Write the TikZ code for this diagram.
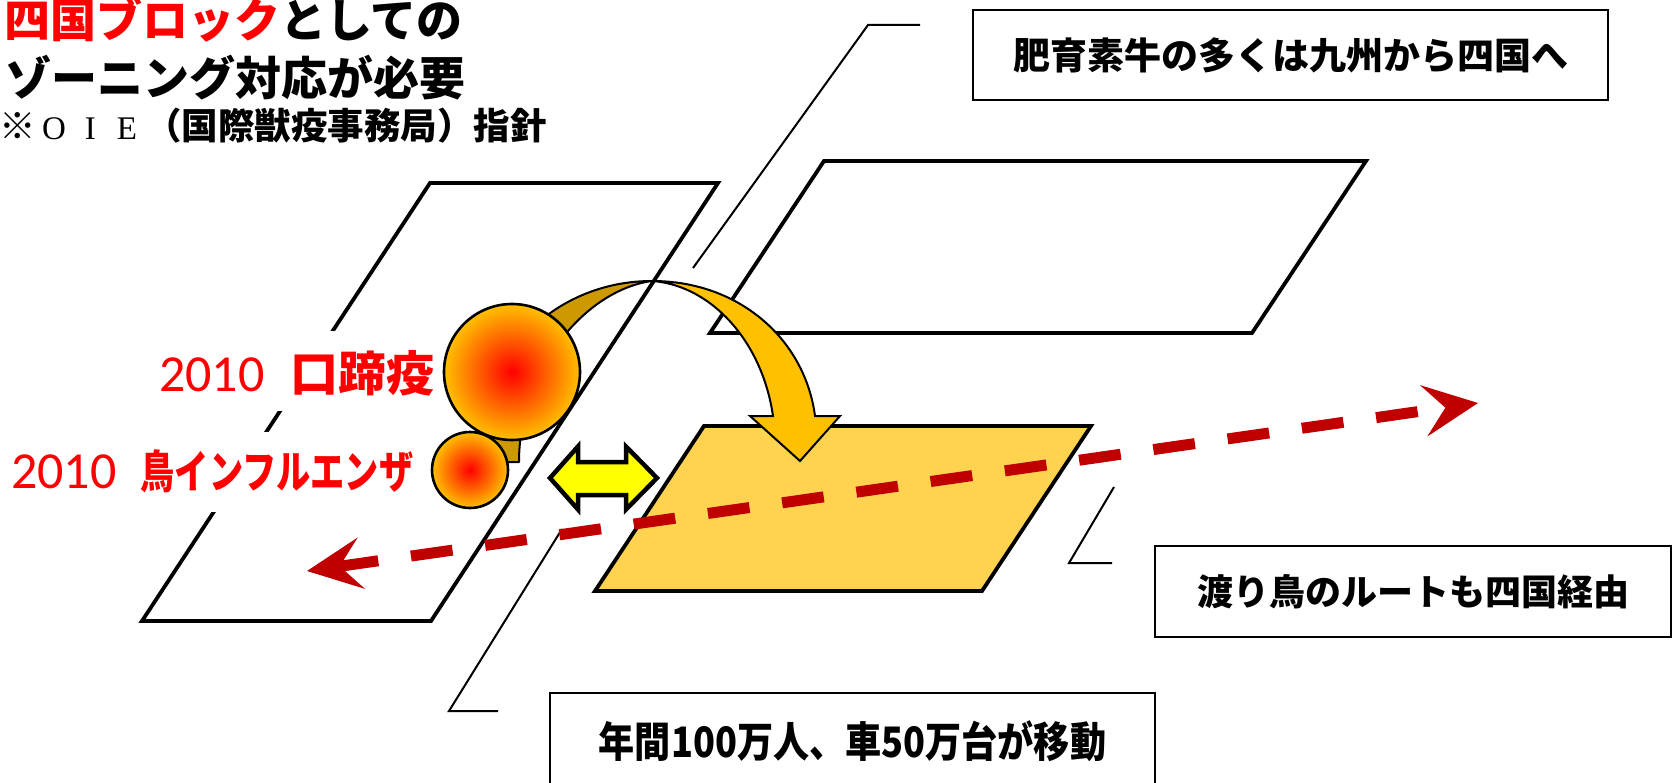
\documentclass[tikz,border=0pt]{standalone}
\usepackage{fontspec}
\usepackage{graphicx}
\newfontfamily\jp{Noto Sans CJK JP}
\newfontfamily\calfont{Carlito}
\newfontfamily\serfont{Liberation Serif}
\usetikzlibrary{calc}
\definecolor{arrowred}{RGB}{192,0,0}
\definecolor{gold}{RGB}{255,192,0}
\definecolor{goldback}{RGB}{204,153,0}
\definecolor{plate}{RGB}{255,211,79}
\definecolor{purered}{RGB}{255,0,0}
\definecolor{hlyellow}{RGB}{255,255,0}
\newcommand\fwlatin[1]{\makebox[1em]{\serfont\mdseries\fontsize{33}{36}\selectfont #1}}
\begin{document}
\begin{tikzpicture}[x=1pt,y=-1pt,
  plane/.style={draw=black, line width=3.8pt, line join=miter},
  leader/.style={draw=black, line width=2pt},
  textbox/.style={draw=black, line width=2.2pt, fill=white, inner sep=0pt, font=\jp\bfseries},
  ball/.style={circle, draw=black, line width=2.6pt, inner color=purered, outer color=gold, inner sep=0pt},
  disease/.style={fill=white, inner sep=0pt, text=purered},
  ttl/.style={inner sep=0pt, font=\jp\bfseries},
  band/.style={draw=black, line width=2pt, line join=round}
]
\useasboundingbox (0,0) rectangle (1672,783);

% planes
\coordinate (LA) at (430,183); \coordinate (LB) at (718,183);
\coordinate (LC) at (431,621); \coordinate (LD) at (142,621);
\draw[plane, fill=white] (LA) -- (LB) -- (LC) -- (LD) -- cycle;

\coordinate (UA) at (824,161); \coordinate (UB) at (1366,161);
\coordinate (UC) at (1252,333); \coordinate (UD) at (710,333);
\draw[plane, fill=white] (UA) -- (UB) -- (UC) -- (UD) -- cycle;

% leader lines
\coordinate (l1a) at (920,25); \coordinate (l1b) at (868,25); \coordinate (l1c) at (693,268);
\draw[leader] (l1a) -- (l1b) -- (l1c);
\coordinate (l2a) at (562,529); \coordinate (l2b) at (449,711); \coordinate (l2c) at (498,711);
\draw[leader] (l2a) -- (l2b) -- (l2c);
\coordinate (l3a) at (1114,487); \coordinate (l3b) at (1069,563); \coordinate (l3c) at (1112,563);
\draw[leader] (l3a) -- (l3b) -- (l3c);

\coordinate (PA) at (704,426); \coordinate (PB) at (1091,426);
\coordinate (PC) at (982,591); \coordinate (PD) at (595,591);
\draw[plane, fill=plate] (PA) -- (PB) -- (PC) -- (PD) -- cycle;

% curved arrow: back side
\coordinate (top) at (652,281);
\filldraw[band, fill=goldback] (478,462) .. controls (478,350) and (560,281) .. (top)
   .. controls (585,290) and (519,370) .. (519,462) -- cycle;

% circles
\node[ball, minimum size=136pt] (fmdball) at (512,372) {};
\node[ball, minimum size=76pt] (aiball) at (470,470) {};

% curved arrow: front side with head
\filldraw[band, fill=gold, line join=miter] (top) .. controls (740,281) and (805,340) .. (815,416)
   -- (840,416) -- (800,461) -- (750,416) -- (773,416)
   .. controls (762,340) and (710,285) .. (top) -- cycle;

% yellow double arrow
\filldraw[draw=black, fill=hlyellow, line width=4.5pt, line join=miter]
  (550,478) -- (578,446.5) -- (578,462) -- (626,462) -- (626,446.5) -- (657,478)
  -- (626,509.5) -- (626,495) -- (578,495) -- (578,509.5) -- cycle;

% disease labels
\node[disease, anchor=base west, text height=60pt, text depth=20pt] (fmd) at (159,391)
  {{\calfont\fontsize{52}{54}\selectfont 2010}\hspace{26pt}{\jp\bfseries\fontsize{48}{50}\selectfont 口蹄疫}};
\node[disease, anchor=base west, text height=56pt, text depth=24pt] (ai) at (11,488)
  {{\calfont\fontsize{52}{54}\selectfont 2010}\hspace{24pt}\scalebox{0.76}[1]{\jp\bfseries\fontsize{45}{50}\selectfont 鳥インフルエンザ}};

% dashed migration arrow
\coordinate (dl) at (307,571); \coordinate (dr) at (1478,403);
\draw[arrowred, line width=11pt, dash pattern=on 42pt off 33pt]
  ($(dl)!30pt!(dr)$) -- ($(dr)!30pt!(dl)$);
\coordinate (rb) at ($(dr)!55pt!(dl)$);
\coordinate (rn) at ($(dr)!33pt!(dl)$);
\fill[arrowred] (dr) -- ($(rb)!26pt!90:(dr)$) -- (rn) -- ($(rb)!26pt!-90:(dr)$) -- cycle;
\coordinate (lb) at ($(dl)!55pt!(dr)$);
\coordinate (ln) at ($(dl)!33pt!(dr)$);
\fill[arrowred] (dl) -- ($(lb)!26pt!90:(dl)$) -- (ln) -- ($(lb)!26pt!-90:(dl)$) -- cycle;

% text boxes
\node[textbox, minimum width=635pt, minimum height=90pt] (cattle) at (1290.5,55)
  {\fontsize{37}{40}\selectfont 肥育素牛の多くは九州から四国へ};
\node[textbox, minimum width=516pt, minimum height=91pt] (birds) at (1413,591.5)
  {\fontsize{36}{40}\selectfont 渡り鳥のルートも四国経由};
\node[textbox, minimum width=605pt, minimum height=96pt] (traffic) at (852.5,741)
  {\scalebox{0.86}[1]{\fontsize{42}{44}\selectfont 年間100万人、車50万台が移動}};

% title
\node[ttl, anchor=base east] (t1) at (463,38)
  {\fontsize{46}{50}\selectfont\textcolor{purered}{四国ブロック}としての};
\node[ttl, anchor=base east] (t2) at (466,96)
  {\fontsize{46}{50}\selectfont ゾーニング対応が必要};
\node[ttl, anchor=base west] (t3) at (-1,140)
  {\fontsize{36.5}{40}\selectfont ※\fwlatin{O}\fwlatin{I}\fwlatin{E}（国際獣疫事務局）指針};
\end{tikzpicture}
\end{document}
